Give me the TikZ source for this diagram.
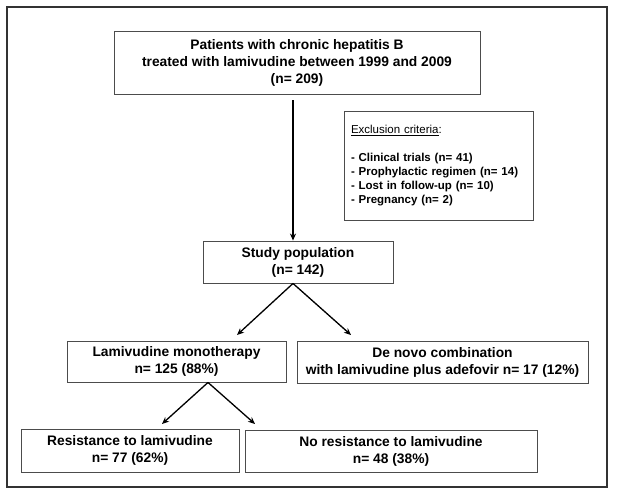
\documentclass[tikz,border=0pt]{standalone}
\usepackage{fontspec}
\setmainfont{Liberation Sans}
\usetikzlibrary{arrows.meta}
\begin{document}
\begin{tikzpicture}[x=1pt,y=-1pt,
 box/.style={draw=black!70, line width=0.9pt, inner sep=0pt, align=center,
   font=\fontsize{13.8}{17}\selectfont\bfseries},
 arr/.style={line width=1.3pt, -{Stealth[length=7pt,width=6pt]}}]
\useasboundingbox (0,0) rectangle (618,496);
\draw[line width=1.2pt, black!80] (7,7) rectangle (607,487);
\node[box, minimum width=366pt, minimum height=63pt] (top) at (297,62.5)
  {Patients with chronic hepatitis B\\treated with lamivudine between 1999 and 2009\\(n= 209)};
\node[draw=black!70, line width=0.9pt, minimum width=189pt, minimum height=109pt,
  inner xsep=7pt, inner ysep=0pt, text width=175pt, align=left,
  font=\fontsize{11.5}{14}\selectfont] (excl) at (438.5,165.5)
  {\underline{Exclusion criteria}:\\[14pt]
   \bfseries - Clinical trials (n= 41)\\
   - Prophylactic regimen (n= 14)\\
   - Lost in follow-up (n= 10)\\
   - Pregnancy (n= 2)};
\node[box, minimum width=190pt, minimum height=42pt] (study) at (298,262)
  {Study population\\(n= 142)};
\node[box, minimum width=219pt, minimum height=41pt] (lami) at (176.5,361.5)
  {Lamivudine monotherapy\\n= 125 (88\%)};
\node[box, minimum width=291pt, minimum height=42pt] (denovo) at (442.5,362)
  {De novo combination\\with lamivudine plus adefovir n= 17 (12\%)};
\node[box, minimum width=218pt, minimum height=43pt] (res) at (130,450.5)
  {Resistance to lamivudine\\n= 77 (62\%)};
\node[box, minimum width=292pt, minimum height=42pt] (nores) at (391,451)
  {No resistance to lamivudine\\n= 48 (38\%)};
\coordinate (a0) at (293,100);
\coordinate (t1) at (237,335);
\coordinate (t2) at (351,335);
\coordinate (t3) at (162,424);
\coordinate (t4) at (255,424);
\draw[arr] (a0) -- (a0 |- study.north);
\draw[arr] ([xshift=-5pt]study.south) -- (t1);
\draw[arr] ([xshift=-5pt]study.south) -- (t2);
\draw[arr] ([xshift=31.5pt]lami.south) -- (t3);
\draw[arr] ([xshift=31.5pt]lami.south) -- (t4);
\end{tikzpicture}
\end{document}
